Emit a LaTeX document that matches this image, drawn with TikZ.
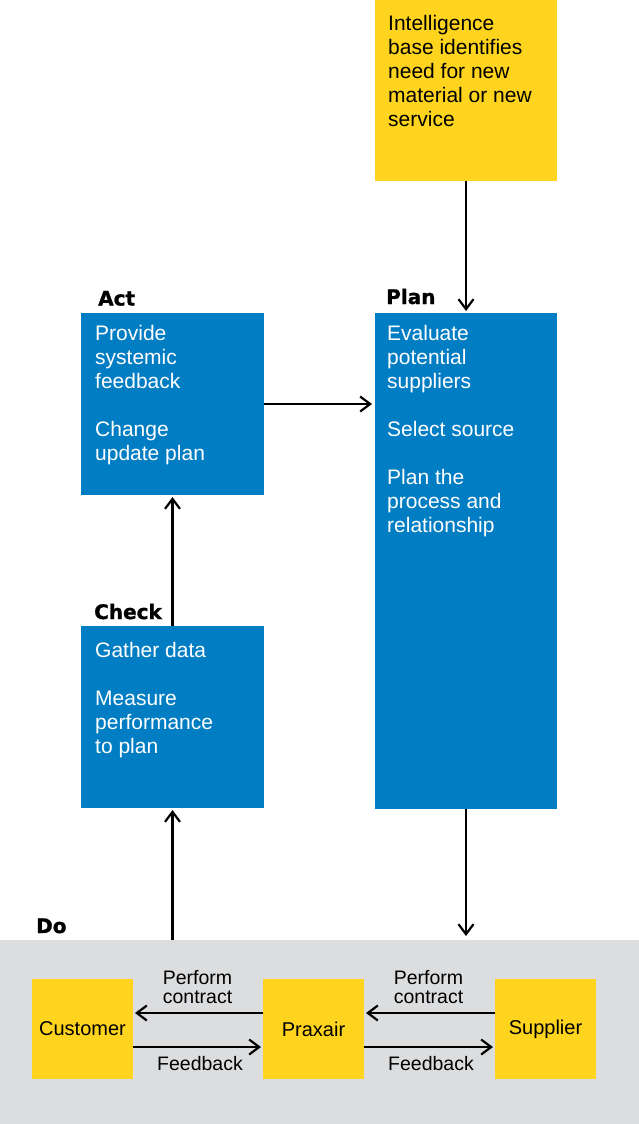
\documentclass[tikz,border=0pt]{standalone}
\usepackage{fontspec}
\setmainfont{Liberation Sans}
\newfontfamily\headfont{DejaVu Sans}[BoldFeatures={FakeBold=1.2}]
\usetikzlibrary{arrows.meta}
\definecolor{pblue}{RGB}{0,125,195}
\definecolor{pyellow}{RGB}{255,212,30}
\definecolor{pgray}{RGB}{220,221,223}
\tikzset{
  bluebox/.style={fill=pblue,draw=none,inner sep=0pt,outer sep=0pt,anchor=north west,minimum width=183pt},
  yelbox/.style={fill=pyellow,draw=none,inner sep=0pt,outer sep=0pt,anchor=north west},
  smallbox/.style={fill=pyellow,draw=none,inner sep=0pt,outer sep=0pt,minimum width=101pt,minimum height=100pt,font=\fontsize{20}{20}\selectfont},
  boxtext/.style={inner sep=0pt,anchor=north west,align=left,font=\fontsize{21}{24}\selectfont},
  heading/.style={inner sep=0pt,anchor=base west,font=\headfont\bfseries\fontsize{20}{20}\selectfont},
  lbl/.style={inner sep=0pt,align=center,font=\fontsize{19.5}{19}\selectfont},
  arr/.style={line width=2.2pt,-{Straight Barb[length=10pt,width=15pt,line width=2.2pt]}},
}
\begin{document}
\begin{tikzpicture}[x=1pt,y=-1pt]
\useasboundingbox (0,0) rectangle (639,1124);
% Do band
\node[fill=pgray,inner sep=0pt,outer sep=0pt,anchor=north west,minimum width=639pt,minimum height=184pt] (do) at (0,940) {};
% boxes
\node[yelbox,minimum width=182pt,minimum height=181pt] (intel) at (375,0) {};
\node[bluebox,minimum height=182pt] (act) at (81,313) {};
\node[bluebox,minimum width=182pt,minimum height=496pt] (plan) at (375,313) {};
\node[bluebox,minimum height=182pt] (check) at (81,626) {};
% texts
\node[boxtext] (inteltxt) at (388,13.2) {\strut Intelligence\\base identifies\\need for new\\material or new\\service};
\node[boxtext,text=white] (acttxt) at (95,323.2) {\strut Provide\\systemic\\feedback\\[24pt]Change\\update plan};
\node[boxtext,text=white] (plantxt) at (387,323.2) {\strut Evaluate\\potential\\suppliers\\[24pt]Select source\\[24pt]Plan the\\process and\\relationship};
\node[boxtext,text=white] (checktxt) at (95,640.2) {\strut Gather data\\[24pt]Measure\\performance\\to plan};
% headings
\node[heading] (acth) at (98,305.5) {Act};
\node[heading] (planh) at (386,304) {Plan};
\node[heading] (checkh) at (94,619) {Check};
\node[heading] (doh) at (36,933) {Do};
% Do boxes
\node[smallbox] (cust) at (82.5,1029) {Customer};
\node[smallbox] (prax) at (313.5,1029) {Praxair};
\node[smallbox] (supp) at (545.5,1029) {Supplier};
% arrows
\draw[arr,shorten >=2pt] (intel) -- (plan);
\draw[arr,shorten >=3pt] (act.east) -- (act.east -| plan.west);
\draw[arr,shorten >=2pt] (check) -- (act);
\draw[arr,shorten >=2pt] (check.south |- do.north) -- (check.south);
\draw[arr,shorten >=4pt] (plan.south) -- (plan.south |- do.north);
\draw[arr,shorten >=2pt] ([yshift=16pt]prax.west) -- ([yshift=16pt]cust.east);
\draw[arr,shorten >=2pt] ([yshift=-18pt]cust.east) -- ([yshift=-18pt]prax.west);
\draw[arr,shorten >=2pt] ([yshift=16pt]supp.west) -- ([yshift=16pt]prax.east);
\draw[arr,shorten >=2pt] ([yshift=-18pt]prax.east) -- ([yshift=-18pt]supp.west);
% labels
\node[lbl,anchor=north] (pc1) at (197.5,969.7) {\strut Perform\\contract};
\node[lbl,anchor=north] (pc2) at (428.5,969.7) {\strut Perform\\contract};
\node[lbl,anchor=base] (fb1) at (200,1070) {Feedback};
\node[lbl,anchor=base] (fb2) at (431,1070) {Feedback};
\end{tikzpicture}
\end{document}
